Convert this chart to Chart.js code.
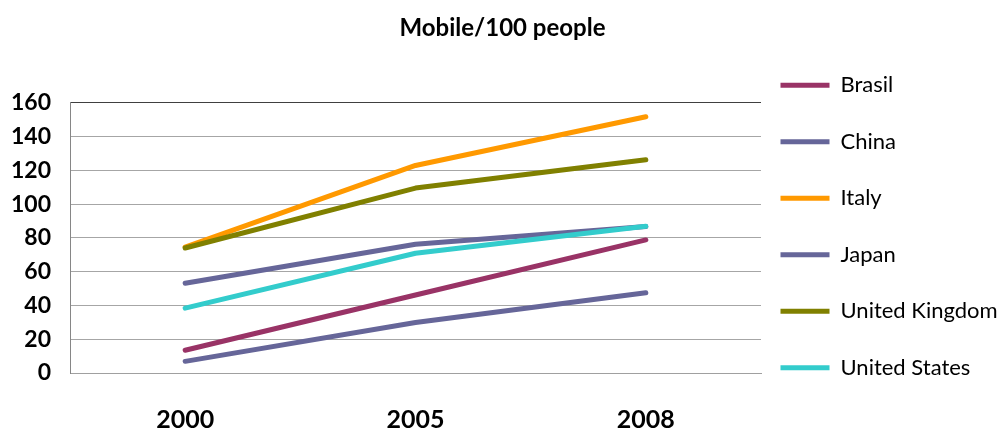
<!DOCTYPE html>
<html>
<head>
<meta charset="utf-8">
<script src="https://cdn.jsdelivr.net/npm/chart.js@4"></script>
<style>
  body { margin: 0; background: #fff; }
  canvas { display: block; }
</style>
</head>
<body>
<canvas id="chart" width="1005" height="435"></canvas>
<script>
// data
const years = ['2000', '2005', '2008'];
const brasil = [13.5, 46.2, 78.8];
const china = [6.9, 29.9, 47.5];
const italy = [74.5, 122.9, 151.7];
const japan = [53.1, 76.2, 86.8];
const unitedKingdom = [74.0, 109.5, 126.3];
const unitedStates = [38.4, 70.9, 86.9];

const seriesNames = ['Brasil', 'China', 'Italy', 'Japan', 'United Kingdom', 'United States'];
const seriesValues = [brasil, china, italy, japan, unitedKingdom, unitedStates];
const seriesColors = ['#993366', '#666699', '#FF9900', '#666699', '#808000', '#33CCCC'];

const FONT = 'Lato, "Open Sans", sans-serif';

// nudge the legend so its spacing and position match the original
const legendShift = {
  id: 'legendShift',
  afterLayout(chart) {
    const lg = chart.legend;
    lg.left -= 15;
    lg.top += 9; lg.bottom += 9;
  }
};

new Chart(document.getElementById('chart'), {
  type: 'line',
  data: {
    labels: years,
    datasets: seriesNames.map((name, i) => ({
      label: name,
      data: seriesValues[i],
      borderColor: seriesColors[i],
      backgroundColor: seriesColors[i],
      borderWidth: 5,
      borderCapStyle: 'round',
      borderJoinStyle: 'round',
      pointRadius: 0,
      tension: 0,
      order: seriesNames.length - i
    }))
  },
  options: {
    responsive: false,
    animation: false,
    layout: { padding: 0 },
    plugins: {
      title: {
        display: true,
        text: 'Mobile/100 people',
        color: '#000',
        font: { family: FONT, size: 24, weight: 'bold' },
        padding: { top: 14, bottom: 60 }
      },
      legend: {
        position: 'right',
        maxWidth: 244,
        labels: {
          usePointStyle: true,
          pointStyle: 'line',
          pointStyleWidth: 49,
          padding: 34.5,
          color: '#000',
          font: { family: FONT, size: 22 },
          sort: (a, b) => a.datasetIndex - b.datasetIndex
        }
      },
      tooltip: { enabled: false }
    },
    scales: {
      x: {
        offset: true,
        afterFit: (scale) => { scale.height = 62; },
        grid: { display: false, drawTicks: false },
        border: { display: true, color: '#a0a0a0', width: 1 },
        ticks: {
          color: '#000',
          padding: 32,
          font: { family: FONT, size: 25, weight: 'bold' }
        }
      },
      y: {
        min: 0,
        max: 160,
        afterFit: (scale) => { scale.width = 70; },
        grid: {
          drawTicks: false,
          color: (ctx) => ctx.tick && ctx.tick.value === 160 ? '#404040' : '#a6a6a6'
        },
        border: { display: true, color: '#868686', width: 1 },
        ticks: {
          stepSize: 20,
          autoSkip: false,
          color: '#000',
          padding: 19,
          font: { family: FONT, size: 23, weight: 'bold' }
        }
      }
    }
  },
  plugins: [legendShift]
});
</script>
</body>
</html>
